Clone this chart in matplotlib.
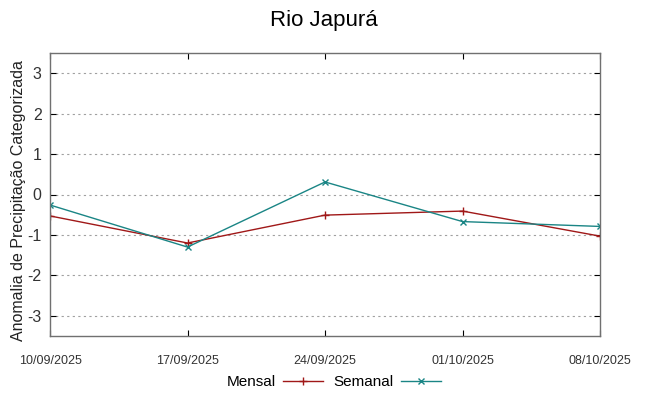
import matplotlib
matplotlib.use('Agg')
import matplotlib.pyplot as plt

plt.rcParams['font.family'] = ['Liberation Sans', 'DejaVu Sans']

dates = ['10/09/2025', '17/09/2025', '24/09/2025', '01/10/2025', '08/10/2025']
mensal = [-0.53, -1.20, -0.51, -0.41, -1.03]
semanal = [-0.26, -1.30, 0.31, -0.67, -0.79]
yticks = [-3, -2, -1, 0, 1, 2, 3]

fig = plt.figure(figsize=(6.48, 3.96), dpi=100)
ax = fig.add_axes([50 / 648, 60 / 396, 550 / 648, 283 / 396])

x = list(range(len(dates)))
ax.plot(x, mensal, color='#a01818', lw=1.0, marker='+', ms=6, mew=1.0, label='Mensal')
ax.plot(x, semanal, color='#1a8585', lw=1.0, marker='x', ms=5, mew=1.0, label='Semanal')

ax.set_xlim(0, len(dates) - 1)
ax.set_ylim(-3.5, 3.5)
ax.set_xticks(x)
ax.set_xticklabels(dates, fontsize=9, color='#333333')
ax.set_yticks(yticks)
ax.set_yticklabels([str(v) for v in yticks], fontsize=11.5, color='#333333')
ax.tick_params(direction='in', top=True, right=True, length=4, width=0.8, color='black')
ax.tick_params(axis='x', pad=14)
ax.tick_params(axis='y', pad=6)
ax.grid(axis='y', color='#a0a0a0', ls=(0, (2, 3)), lw=0.8)
for s in ax.spines.values():
    s.set_color('#707070')
    s.set_linewidth(1.0)

ax.set_ylabel('Anomalia de Precipitação Categorizada', fontsize=11.5, color='#222222')
ax.yaxis.set_label_coords(-0.044, 0.477)
fig.suptitle('Rio Japurá', fontsize=16, y=0.975)

fig.legend(loc='center', bbox_to_anchor=(0.515, 14 / 396), ncol=2, frameon=False,
           markerfirst=False, fontsize=11, handlelength=2.6, columnspacing=0.7, handletextpad=0.5)

fig.savefig('out.png', dpi=100)
